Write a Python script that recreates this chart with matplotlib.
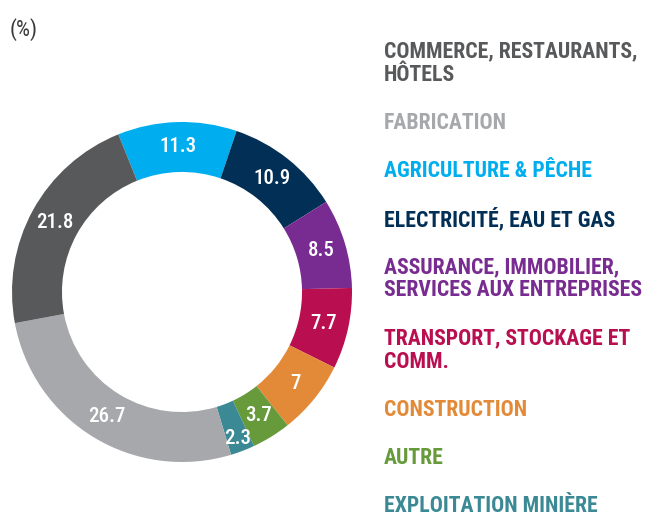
import matplotlib
matplotlib.use('Agg')
import matplotlib.pyplot as plt
from matplotlib import font_manager
import numpy as np

# secteurs dans l'ordre du tracé (sens horaire depuis le haut)
secteurs = ["AGRICULTURE & PÊCHE", "ELECTRICITÉ, EAU ET GAS",
            "ASSURANCE, IMMOBILIER,\nSERVICES AUX ENTREPRISES",
            "TRANSPORT, STOCKAGE ET\nCOMM.", "CONSTRUCTION", "AUTRE",
            "EXPLOITATION MINIÈRE", "FABRICATION",
            "COMMERCE, RESTAURANTS,\nHÔTELS"]
valeurs = [11.3, 10.9, 8.5, 7.7, 7, 3.7, 2.3, 26.7, 21.8]
couleurs = ["#00AEEF", "#022F56", "#782B90", "#B90E4F", "#E38A38",
            "#669A3B", "#3A8995", "#A7A8AB", "#58595B"]

# ordre de la légende à droite
ordre_legende = [8, 7, 0, 1, 2, 3, 4, 5, 6]

# une police étroite si possible
entrees = font_manager.fontManager.ttflist
etroites = {f.name for f in entrees
            if 'condensed' in str(f.stretch) or 'Narrow' in f.name}
police = 'Roboto'
for nom in ['Liberation Sans Narrow', 'Roboto Condensed', 'Open Sans Condensed',
            'Noto Sans Condensed', 'Noto Sans', 'DejaVu Sans Condensed', 'DejaVu Sans']:
    if nom in etroites:
        police = nom
        break
famille = [police, 'DejaVu Sans']

fig = plt.figure(figsize=(6.45, 5.17), dpi=100)
W, H = 645, 517
rendu = fig.canvas.get_renderer()


def taille_pour(texte, largeur_px, poids):
    t = fig.text(0, 0, texte, fontsize=10, fontweight=poids,
                 fontstretch='condensed', family=famille)
    w = t.get_window_extent(renderer=rendu).width
    t.remove()
    return 10 * largeur_px / w


cx, cy, r = 182, 292, 170
ax = fig.add_axes([(cx - r) / W, (H - cy - r) / H, 2 * r / W, 2 * r / H])
wedges, _ = ax.pie(valeurs, colors=couleurs, startangle=112, counterclock=False,
                   radius=1, wedgeprops=dict(width=0.294, edgecolor='none'))
ax.set_xlim(-1, 1)
ax.set_ylim(-1, 1)
ax.set_aspect('equal')
ax.axis('off')

for w, v in zip(wedges, valeurs):
    a = np.deg2rad((w.theta1 + w.theta2) / 2)
    d = 0.92 if v < 3 else 0.855
    ax.text(d * np.cos(a), d * np.sin(a), f"{v:g}", color='white',
            ha='center', va='center', fontsize=15, fontweight='medium',
            fontstretch='condensed', family=famille)

fig.text(10 / W, 1 - 30 / H, "(%)", fontsize=16, color='#3a3a3a',
         ha='left', va='center', fontstretch='condensed', family=famille)

taille_leg = min(taille_pour("COMMERCE, RESTAURANTS,", 252, 'bold'), 16)
y = 51.5
for i in ordre_legende:
    for ligne in secteurs[i].split("\n"):
        fig.text(384 / W, 1 - y / H, ligne, color=couleurs[i], fontsize=taille_leg,
                 fontweight='bold', fontstretch='condensed', ha='left', va='center',
                 family=famille)
        y += 23.5
    y += 48 - 23.5

fig.savefig("out.png", dpi=100)
